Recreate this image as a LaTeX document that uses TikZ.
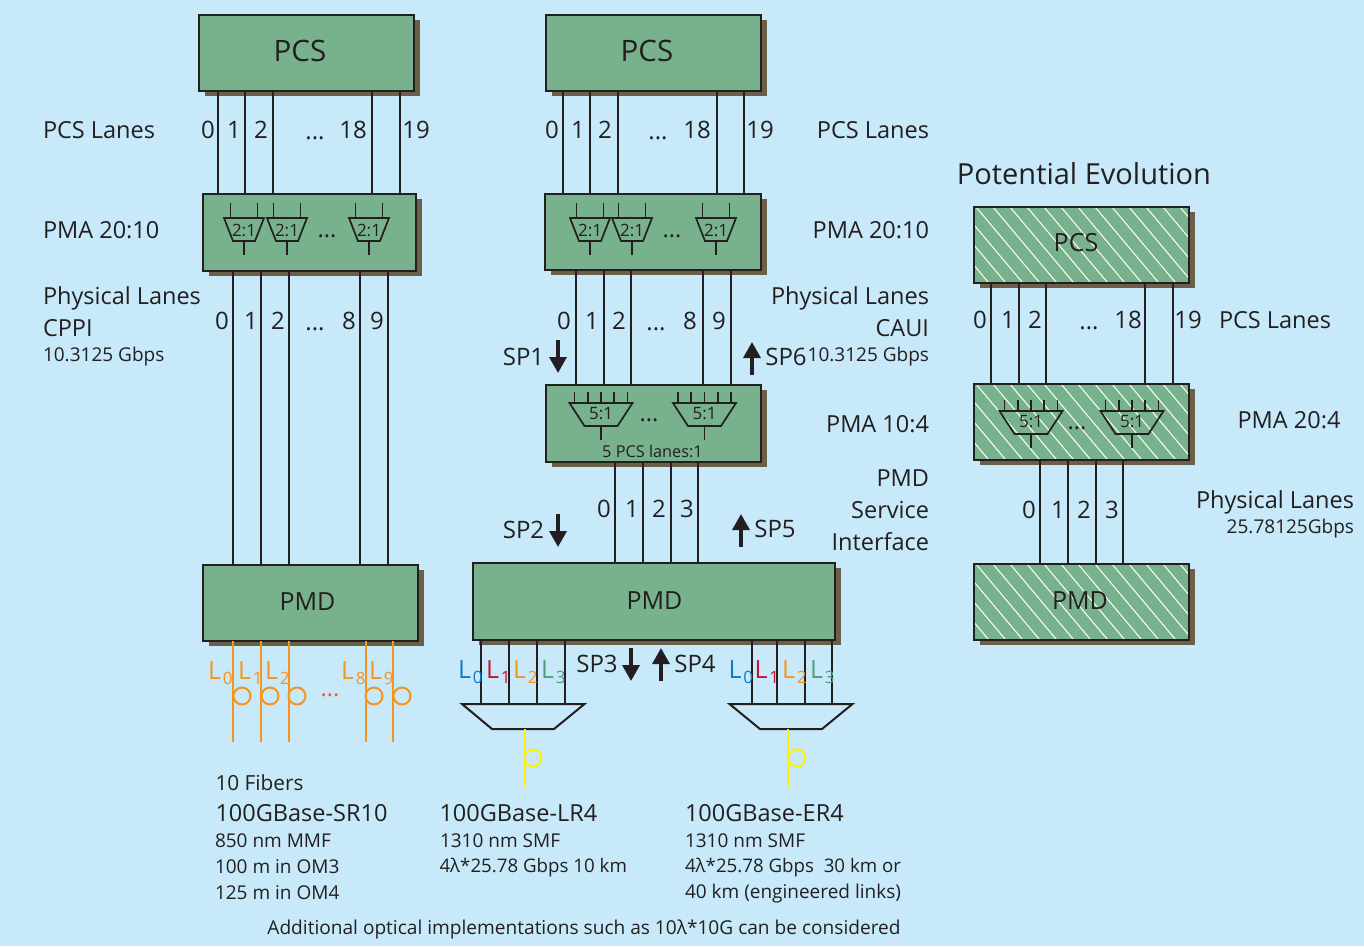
\documentclass[tikz,border=0pt]{standalone}
\usepackage{fontspec}
\setmainfont{Open Sans}
\usetikzlibrary{shadows,arrows.meta}
\definecolor{bgc}{HTML}{C7E9FA}
\definecolor{boxc}{HTML}{77B28C}
\definecolor{shc}{HTML}{6B5F47}
\definecolor{inkc}{HTML}{231F20}
\definecolor{lblue}{HTML}{0F7BC4}
\definecolor{lred}{HTML}{C4122F}
\definecolor{lorange}{HTML}{F7941D}
\definecolor{lgreen}{HTML}{4F9E7D}
\definecolor{lyellow}{HTML}{FFF200}
\definecolor{ldot}{HTML}{F15A29}
\newcommand\fsz[1]{\fontsize{#1}{#1}\selectfont}
\tikzset{
  x=1pt,y=-1pt,
  every node/.style={inner sep=0pt,outer sep=0pt,text=inkc},
  greenbox/.style={draw=inkc,line width=2.4pt,fill=boxc,
    drop shadow={shadow xshift=5.5pt,shadow yshift=-5pt,opacity=1,fill=shc}},
  hatchbox/.style={greenbox,path picture={
    \foreach \i in {-100,-83,...,300}
      \draw[white,line width=1pt] ([xshift=\i pt]path picture bounding box.north west) -- ++(100,119);}},
  lane/.style={draw=inkc,line width=2pt},
  olane/.style={draw=lorange,line width=2pt},
  yfib/.style={draw=lyellow,line width=2pt},
  muxline/.style={draw=inkc,line width=1.7pt,line join=miter},
  demux/.style={draw=inkc,line width=2pt},
  bigt/.style={font=\fsz{25}},
  hugt/.style={font=\fsz{29.5}},
  labt/.style={font=\fsz{23.5}},
  smallt/.style={font=\fsz{19},yshift=-1.5pt},
  dig/.style={font=\fsz{24}},
  sp/.style={font=\fsz{24}},
  parrow/.style={draw=inkc,line width=3.5pt,-{Triangle[width=17pt,length=16pt]}},
  lsub/.style={font=\fsz{25},anchor=base west},
}
\newcommand\gbox[6][greenbox]{% style, name, x1,y1,x2,y2
  \pgfmathsetmacro\bw{#5-#3}\pgfmathsetmacro\bh{#6-#4}
  \pgfmathsetmacro\bx{(#3+#5)/2}\pgfmathsetmacro\by{(#4+#6)/2}
  \node[#1,minimum width=\bw pt,minimum height=\bh pt] (#2) at (\bx,\by) {};}
\newcommand\muxii[3]{% name, cx, ytop
  \begin{scope}[shift={(#2,#3)}]
  \draw[muxline] (-20,0) -- (20,0) -- (11,23) -- (-11,23) -- cycle;
  \draw[muxline] (-13.5,-15) -- (-13.5,0) (13.5,-15) -- (13.5,0) (0,23) -- (0,37);
  \node[font=\fsz{17}] (#1) at (0,12) {2:1};
  \end{scope}}
\newcommand\muxv[3]{% name, cx, ytop
  \begin{scope}[shift={(#2,#3)}]
  \draw[muxline] (-31.5,0) -- (31.5,0) -- (16.5,23) -- (-16.5,23) -- cycle;
  \foreach \k in {-26.6,-13.3,0,13.3,26.6} \draw[muxline] (\k,-11.5) -- (\k,0);
  \draw[muxline] (0,23) -- (0,37);
  \node[font=\fsz{17}] (#1) at (0,11) {5:1};
  \end{scope}}
\newcommand\lsb[5]{% name,color,x,y,digit
  \node[lsub,text=#2] (#1) at (#3,#4) {L\hspace{2pt}\raisebox{-5.5pt}{\fsz{17}#5}};}
\begin{document}
\begin{tikzpicture}
\useasboundingbox[fill=bgc] (0,0) rectangle (1364,946);
% boxes
\gbox{pcsA}{199}{15}{414}{91}
\gbox{pmaA}{203}{194}{416}{271}
\gbox{pmdA}{203}{565}{418}{641}
\gbox{pcsB}{546}{15}{761}{91}
\gbox{pmaB}{545}{194}{761}{270}
\gbox{pmcB}{546}{385}{761}{462}
\gbox{pmdB}{473}{563}{835}{640}
\gbox[hatchbox]{pcsC}{974}{207}{1189}{283}
\gbox[hatchbox]{pmaC}{974}{384}{1189}{460}
\gbox[hatchbox]{pmdC}{974}{564}{1189}{640}
% box labels
\node[hugt] (tpcsA) at (300,51) {PCS};
\node[hugt] (tpcsB) at (647,51) {PCS};
\node[bigt] (tpmdA) at (307.5,602) {PMD};
\node[bigt] (tpmdB) at (654.5,601) {PMD};
\node[bigt] (tpcsC) at (1076,243) {PCS};
\node[bigt] (tpmdC) at (1080,601) {PMD};
% lanes
\foreach \x in {218,245,273,372,400} \draw[lane] (pcsA.south -| \x,0) -- (pmaA.north -| \x,0);
\foreach \x in {233,261,289,360,388} \draw[lane] (pmaA.south -| \x,0) -- (pmdA.north -| \x,0);
\foreach \x in {563,590,618,717,744} \draw[lane] (pcsB.south -| \x,0) -- (pmaB.north -| \x,0);
\foreach \x in {576,604,631,703,731} \draw[lane] (pmaB.south -| \x,0) -- (pmcB.north -| \x,0);
\foreach \x in {615,643,671,698} \draw[lane] (pmcB.south -| \x,0) -- (pmdB.north -| \x,0);
\foreach \x in {991,1019,1046,1145,1173} \draw[lane] (pcsC.south -| \x,0) -- (pmaC.north -| \x,0);
\foreach \x in {1040,1068,1096,1123} \draw[lane] (pmaC.south -| \x,0) -- (pmdC.north -| \x,0);
% muxes
\muxii{ma1}{244}{218}\muxii{ma2}{287}{218}\muxii{ma3}{369}{218}
\muxii{mb1}{590}{218}\muxii{mb2}{632}{218}\muxii{mb3}{716}{218}
\muxv{mc1}{601}{403}\muxv{mc2}{704.5}{403}
\muxv{md1}{1031}{411}\muxv{md2}{1132}{411}
\node[labt] (dma) at (327,236) {...};
\node[labt] (dmb) at (672,236) {...};
\node[labt] (dmc) at (649,420) {...};
\node[labt] (dmd) at (1077,428) {...};
\node[font=\fsz{16.3}] (fivepcs) at (652.5,451) {5 PCS lanes:1};
% orange fibres
\foreach \x in {233,261,289,366,393} {
  \coordinate (fe\x) at (\x,742);
  \draw[olane] (pmdA.south -| \x,0) -- (fe\x);}
\foreach \x in {242,270,297,374,402} \draw[lorange,line width=2pt] (\x,696) circle (8.5);
\lsb{la0}{lorange}{208}{679}{0}\lsb{la1}{lorange}{238}{679}{1}\lsb{la2}{lorange}{265}{679}{2}
\lsb{la8}{lorange}{341}{679}{8}\lsb{la9}{lorange}{369}{679}{9}
\node[labt,text=ldot] (dfa) at (330,695) {...};
% demuxes
\coordinate (dA) at (523,704);
\coordinate (dB) at (791,704);
\draw[demux] (462,704) -- (584.5,704) -- (554,729) -- (492,729) -- cycle;
\draw[demux] (729.5,704) -- (852.5,704) -- (822,729) -- (760,729) -- cycle;
\foreach \x in {481,509,537,565} \draw[lane] (pmdB.south -| \x,0) -- (dA -| \x,0);
\foreach \x in {752,777,805,832} \draw[lane] (pmdB.south -| \x,0) -- (dB -| \x,0);
\coordinate (y1a) at (525,729); \coordinate (y1b) at (525,787);
\coordinate (y2a) at (788,729); \coordinate (y2b) at (788,787);
\draw[yfib] (y1a) -- (y1b);
\draw[yfib] (y2a) -- (y2b);
\draw[lyellow,line width=2pt] (533,758) circle (8.5);
\draw[lyellow,line width=2pt] (797,758) circle (8.5);
\lsb{lb0}{lblue}{458}{678}{0}\lsb{lb1}{lred}{486}{678}{1}\lsb{lb2}{lorange}{513}{678}{2}\lsb{lb3}{lgreen}{541}{678}{3}
\lsb{lc0}{lblue}{728.5}{678}{0}\lsb{lc1}{lred}{754.5}{678}{1}\lsb{lc2}{lorange}{782}{678}{2}\lsb{lc3}{lgreen}{810}{678}{3}
% SP arrows
\foreach \n/\a/\b/\xx in {a1/340/373/558,a2/514/547/558,a3/648/681/631}{
  \coordinate (\n s) at (\xx,\a); \coordinate (\n e) at (\xx,\b);
  \draw[parrow] (\n s) -- (\n e);}
\foreach \n/\a/\b/\xx in {a4/681/648/661,a5/547/514/741,a6/375/342/752}{
  \coordinate (\n s) at (\xx,\a); \coordinate (\n e) at (\xx,\b);
  \draw[parrow] (\n s) -- (\n e);}
\node[sp] (sp1) at (523.5,357) {SP1};
\node[sp] (sp2) at (523.5,530) {SP2};
\node[sp] (sp3) at (597,664) {SP3};
\node[sp] (sp4) at (695,664) {SP4};
\node[sp] (sp5) at (775,529) {SP5};
\node[sp] (sp6) at (786,357) {SP6};
% digits
\foreach \t/\x in {0/208,1/234,2/261,18/353,19/416} \node[dig] (da\x) at (\x,130) {\t};
\foreach \t/\x in {0/222,1/251,2/278,8/349,9/377} \node[dig] (db\x) at (\x,321) {\t};
\foreach \t/\x in {0/552,1/578,2/605,18/697,19/760} \node[dig] (dc\x) at (\x,130) {\t};
\foreach \t/\x in {0/564,1/592,2/619,8/690,9/719} \node[dig] (dd\x) at (\x,321) {\t};
\foreach \t/\x in {0/604,1/632,2/659,3/687} \node[dig] (de\x) at (\x,509) {\t};
\foreach \t/\x in {0/980,1/1008,2/1035,18/1128,19/1188} \node[dig] (df\x) at (\x,320) {\t};
\foreach \t/\x in {0/1029,1/1058,2/1084,3/1112} \node[dig] (dg\x) at (\x,510) {\t};
\node[dig] (e1) at (315,138) {...};
\node[dig] (e2) at (315,329) {...};
\node[dig] (e3) at (658,138) {...};
\node[dig] (e4) at (656,329) {...};
\node[dig] (e5) at (1089,328) {...};
% left labels
\node[labt,anchor=west] (l1) at (43,130) {PCS Lanes};
\node[labt,anchor=west] (l2) at (43,230) {PMA 20:10};
\node[labt,anchor=west] (l3) at (43,298) {Physical Lanes};
\node[labt,anchor=west] (l4) at (43,328) {CPPI};
\node[smallt,anchor=west] (l5) at (43,355.5) {10.3125 Gbps};
% middle-right labels
\node[labt,anchor=east] (m1) at (929,130) {PCS Lanes};
\node[labt,anchor=east] (m2) at (929,230) {PMA 20:10};
\node[labt,anchor=east] (m3) at (929,298) {Physical Lanes};
\node[labt,anchor=east] (m4) at (929,328) {CAUI};
\node[smallt,anchor=east] (m5) at (929,355.5) {10.3125 Gbps};
\node[labt,anchor=east] (m6) at (929,424) {PMA 10:4};
\node[labt,anchor=east] (m7) at (929,478) {PMD};
\node[labt,anchor=east] (m8) at (929,510) {Service};
\node[labt,anchor=east] (m9) at (929,542) {Interface};
% right labels
\node[font=\fsz{29}] (pe) at (1084,174) {Potential Evolution};
\node[labt,anchor=west] (r1) at (1219,320) {PCS Lanes};
\node[labt] (r2) at (1289,420) {PMA 20:4};
\node[labt,anchor=east] (r3) at (1354,502) {Physical Lanes};
\node[smallt,anchor=east] (r4) at (1354,527) {25.78125Gbps};
% bottom text
\node[font=\fsz{20.8},anchor=west] (b1) at (215.5,782.5) {10 Fibers};
\node[labt,anchor=west] (b2) at (215.5,813.5) {100GBase-SR10};
\node[smallt,anchor=west] (b3) at (215,839.5) {850 nm MMF};
\node[smallt,anchor=west] (b4) at (215,865) {100 m in OM3};
\node[smallt,anchor=west] (b5) at (215,891) {125 m in OM4};
\node[labt,anchor=west] (c1) at (439.5,813.5) {100GBase-LR4};
\node[smallt,anchor=west] (c2) at (440,839) {1310 nm SMF};
\node[smallt,font=\fsz{18.7},anchor=west] (c3) at (439.5,866) {4λ*25.78 Gbps 10 km};
\node[labt,anchor=west] (f1) at (685,813.5) {100GBase-ER4};
\node[smallt,anchor=west] (f2) at (685,839) {1310 nm SMF};
\node[smallt,font=\fsz{18.7},anchor=west] (f3) at (685,866) {4λ*25.78 Gbps~~30 km or};
\node[smallt,anchor=west] (f4) at (685,892) {40 km (engineered links)};
\node[smallt,font=\fsz{19.1}] (addl) at (584,928) {Additional optical implementations such as 10λ*10G can be considered};
\end{tikzpicture}
\end{document}
